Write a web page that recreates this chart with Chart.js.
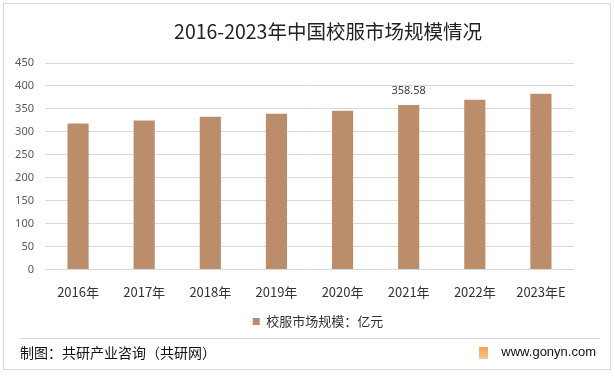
<!DOCTYPE html>
<html>
<head>
<meta charset="utf-8">
<script src="https://cdn.jsdelivr.net/npm/chart.js@4.4.0/dist/chart.umd.min.js"></script>
<style>
  html, body { margin: 0; padding: 0; background: #fff; }
  #wrap { position: relative; width: 615px; height: 378px; overflow: hidden; font-family: "Noto Sans CJK SC", "Noto Sans", sans-serif; }
  #frame { position: absolute; left: 3px; top: 3px; width: 608px; height: 367px; border: 1px solid #d9d9d9; box-sizing: border-box; pointer-events: none; }
  #sep { position: absolute; left: 20px; top: 338px; width: 580px; height: 1px; background: #d9d9d9; }
  #src { position: absolute; left: 20px; top: 342px; font-size: 14px; color: #111; line-height: 20px; }
  #site { position: absolute; right: 19px; top: 343px; font-size: 13px; color: #111; line-height: 18px; font-family: "Liberation Sans", Arial, sans-serif; }
  #logo { position: absolute; left: 479px; top: 347px; width: 9px; height: 12px; background: linear-gradient(#f6a04d, #f7c79a); border-radius: 1px; }
  canvas { position: absolute; left: 0; top: 0; }
</style>
</head>
<body>
<div id="wrap">
  <canvas id="c" width="615" height="378"></canvas>
  <div id="frame"></div>
  <div id="sep"></div>
  <div id="src">制图：共研产业咨询（共研网）</div>
  <div id="logo"></div>
  <div id="site">www.gonyn.com</div>
</div>
<script>
const categories = ["2016年", "2017年", "2018年", "2019年", "2020年", "2021年", "2022年", "2023年E"];
const seriesName = "校服市场规模：亿元";
const values = [318, 324.5, 333, 339.6, 346, 358.58, 370, 383];
const labeledIndex = [5];
const yTicks = [0, 50, 100, 150, 200, 250, 300, 350, 400, 450];

const barColor = "#BB8D6B";

const valueLabelPlugin = {
  id: "valueLabel",
  afterDatasetsDraw(chart) {
    const ctx = chart.ctx;
    const meta = chart.getDatasetMeta(0);
    ctx.save();
    ctx.font = '11px "Noto Sans", "Liberation Sans", sans-serif';
    ctx.fillStyle = "#404040";
    ctx.textAlign = "center";
    ctx.textBaseline = "middle";
    labeledIndex.forEach(i => {
      const el = meta.data[i];
      ctx.fillText(String(values[i]), el.x, el.y - 14);
    });
    ctx.restore();
  }
};

const shiftBoxesPlugin = {
  id: "shiftBoxes",
  afterLayout(chart) {
    const t = chart.titleBlock;
    if (t) { t.left += 41; t.right += 41; }
    const l = chart.legend;
    if (l) { l.left += 31; l.right += 31; }
  }
};

new Chart(document.getElementById("c"), {
  type: "bar",
  data: {
    labels: categories,
    datasets: [{
      label: seriesName,
      data: values,
      backgroundColor: barColor,
      borderWidth: 0,
      categoryPercentage: 1.0,
      barPercentage: 0.32
    }]
  },
  options: {
    responsive: false,
    animation: false,
    layout: { padding: { left: 0, right: 41, top: 20, bottom: 40 } },
    plugins: {
      title: {
        display: true,
        text: "2016-2023年中国校服市场规模情况",
        color: "#222",
        font: { size: 19.5, family: '"Noto Sans CJK SC", sans-serif', weight: "normal" },
        padding: { top: 0, bottom: 19.6 }
      },
      legend: {
        position: "bottom",
        labels: {
          boxWidth: 7,
          boxHeight: 7,
          color: "#333",
          padding: 0,
          font: { size: 13, family: '"Noto Sans CJK SC", sans-serif' }
        }
      },
      tooltip: { enabled: false }
    },
    scales: {
      x: {
        grid: { display: false, drawTicks: false },
        border: { display: false },
        ticks: {
          color: "#333",
          padding: 15,
          maxRotation: 0,
          autoSkip: false,
          font: { size: 13, family: '"Noto Sans CJK SC", sans-serif' }
        }
      },
      y: {
        min: 0,
        max: 450,
        afterBuildTicks(scale) { scale.ticks = yTicks.map(v => ({ value: v })); },
        afterFit(scale) { scale.width = 45; },
        grid: { color: "#d9d9d9", drawTicks: false, lineWidth: 1 },
        border: { display: false },
        ticks: {
          color: "#595959",
          padding: 11,
          font: { size: 11, family: '"Noto Sans", "Liberation Sans", sans-serif' }
        }
      }
    }
  },
  plugins: [valueLabelPlugin, shiftBoxesPlugin]
});
</script>
</body>
</html>
